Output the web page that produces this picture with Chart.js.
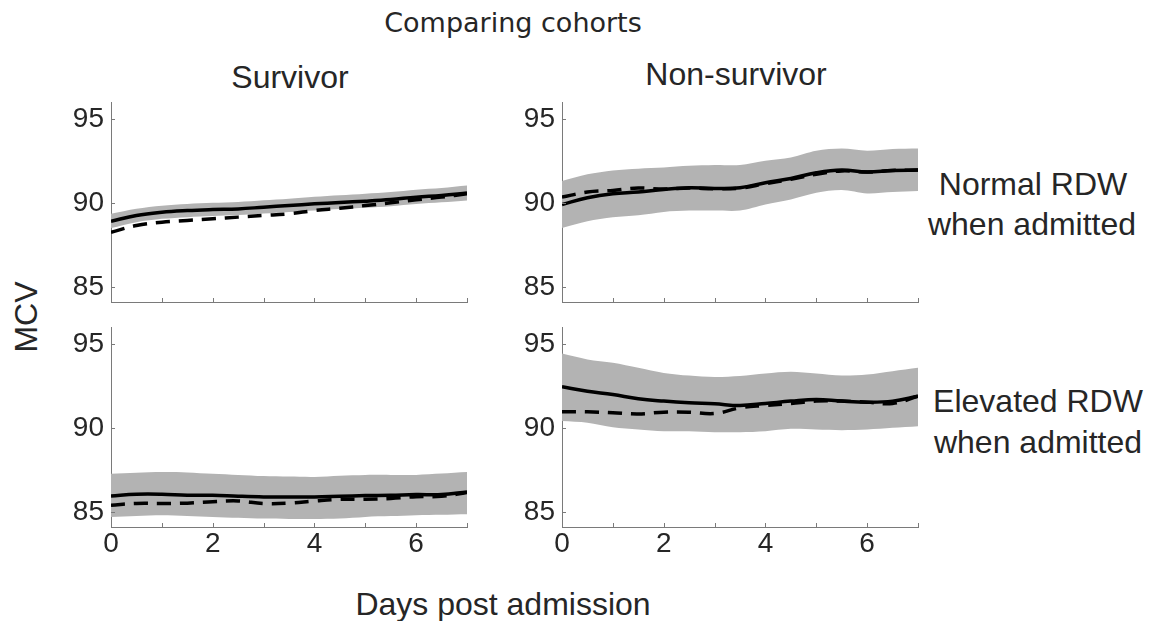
<!DOCTYPE html>
<html>
<head>
<meta charset="utf-8">
<script src="https://cdn.jsdelivr.net/npm/chart.js@4.4.0/dist/chart.umd.min.js"></script>
<style>
  body { margin: 0; background: #fff; width: 1151px; height: 621px; position: relative; overflow: hidden;
         font-family: "Liberation Sans", Arial, sans-serif; color: #262626; }
  .panel { position: absolute; }
  .txt { position: absolute; white-space: nowrap; font-size: 32px; line-height: 32px; transform: translateX(-50%); }
  .title { font-family: "DejaVu Sans", Verdana, sans-serif; font-size: 27px; line-height: 27px; }
  .ylab { position: absolute; left: 26px; top: 317px; font-size: 32px; line-height: 32px; white-space: nowrap;
          transform: translate(-50%, -50%) rotate(-90deg); }
</style>
</head>
<body>
<div class="txt title" style="left:513px; top:9px;">Comparing cohorts</div>
<div class="txt" style="left:290px; top:61px;">Survivor</div>
<div class="txt" style="left:736px; top:58px;">Non-survivor</div>
<div class="txt" style="left:1033px; top:168px;">Normal RDW</div>
<div class="txt" style="left:1032px; top:208px;">when admitted</div>
<div class="txt" style="left:1038px; top:385px;">Elevated RDW</div>
<div class="txt" style="left:1038px; top:426px;">when admitted</div>
<div class="txt" style="left:503px; top:588px;">Days post admission</div>
<div class="ylab">MCV</div>

<div class="panel" style="left:51px; top:96px;"><canvas id="tl" width="422" height="216"></canvas></div>
<div class="panel" style="left:502px; top:96px;"><canvas id="tr" width="422" height="216"></canvas></div>
<div class="panel" style="left:51px; top:321px;"><canvas id="bl" width="422" height="246"></canvas></div>
<div class="panel" style="left:502px; top:321px;"><canvas id="br" width="422" height="246"></canvas></div>

<script>
// days post admission
const days = [0, 0.5, 1, 1.5, 2, 2.5, 3, 3.5, 4, 4.5, 5, 5.5, 6, 6.5, 7];
const xTicks = [0, 1, 2, 3, 4, 5, 6, 7];
const xLabelled = [0, 2, 4, 6];
const yTicks = [85, 90, 95];

// Survivor, normal RDW when admitted
const survNormalSolid  = [88.9, 89.25, 89.44, 89.54, 89.6, 89.64, 89.74, 89.84, 89.94, 90.02, 90.1, 90.2, 90.34, 90.44, 90.58];
const survNormalDashed = [88.25, 88.65, 88.85, 88.95, 89.05, 89.15, 89.25, 89.35, 89.54, 89.68, 89.84, 90.0, 90.18, 90.34, 90.54];
const survNormalUpper  = [89.35, 89.65, 89.83, 89.93, 90.0, 90.05, 90.15, 90.25, 90.36, 90.45, 90.54, 90.64, 90.78, 90.88, 91.03];
const survNormalLower  = [88.5, 88.85, 89.05, 89.15, 89.22, 89.27, 89.36, 89.46, 89.55, 89.63, 89.71, 89.8, 89.93, 90.03, 90.14];

// Non-survivor, normal RDW when admitted
const nonNormalSolid  = [89.9, 90.3, 90.54, 90.64, 90.8, 90.9, 90.86, 90.9, 91.2, 91.45, 91.79, 91.95, 91.83, 91.93, 91.95];
const nonNormalDashed = [90.34, 90.64, 90.74, 90.88, 90.82, 90.88, 90.84, 90.88, 91.14, 91.4, 91.7, 91.9, 91.83, 91.93, 91.95];
const nonNormalUpper  = [91.3, 91.7, 91.93, 92.03, 92.1, 92.2, 92.25, 92.25, 92.5, 92.7, 93.1, 93.23, 93.1, 93.2, 93.23];
const nonNormalLower  = [88.5, 88.9, 89.14, 89.26, 89.46, 89.54, 89.54, 89.54, 89.9, 90.2, 90.6, 90.76, 90.56, 90.64, 90.7];

// Survivor, elevated RDW when admitted
const survElevSolid  = [85.95, 86.05, 86.05, 85.99, 85.99, 85.93, 85.89, 85.89, 85.89, 85.93, 85.97, 85.99, 86.03, 86.03, 86.19];
const survElevDashed = [85.4, 85.5, 85.5, 85.52, 85.6, 85.65, 85.5, 85.52, 85.65, 85.75, 85.75, 85.8, 85.9, 85.93, 86.15];
const survElevUpper  = [87.27, 87.33, 87.37, 87.35, 87.27, 87.2, 87.13, 87.1, 87.08, 87.15, 87.2, 87.2, 87.2, 87.28, 87.37];
const survElevLower  = [84.7, 84.75, 84.8, 84.75, 84.7, 84.65, 84.6, 84.58, 84.57, 84.6, 84.7, 84.75, 84.8, 84.83, 84.86];

// Non-survivor, elevated RDW when admitted
const nonElevSolid  = [92.44, 92.18, 91.98, 91.73, 91.59, 91.49, 91.43, 91.33, 91.45, 91.59, 91.69, 91.59, 91.53, 91.59, 91.88];
const nonElevDashed = [90.95, 90.95, 90.9, 90.83, 90.93, 90.93, 90.85, 91.19, 91.33, 91.45, 91.59, 91.59, 91.53, 91.45, 91.88];
const nonElevUpper  = [94.42, 94.07, 93.87, 93.57, 93.27, 93.11, 93.02, 93.08, 93.23, 93.33, 93.23, 93.11, 93.17, 93.37, 93.57];
const nonElevLower  = [90.4, 90.3, 90.04, 89.9, 89.8, 89.8, 89.74, 89.74, 89.8, 89.94, 89.9, 89.86, 89.9, 90.0, 90.1];

const axisColor = '#7a7a7a';
const textColor = '#262626';
const bandColor = '#b3b3b3';

// MATLAB style tick marks pointing into the plot
const inwardTicks = {
  id: 'inwardTicks',
  afterDraw(chart) {
    const { ctx, chartArea: a, scales: { x, y } } = chart;
    ctx.save();
    ctx.strokeStyle = axisColor;
    ctx.lineWidth = 1;
    ctx.beginPath();
    xTicks.forEach(v => {
      const px = Math.round(x.getPixelForValue(v)) + 0.5;
      ctx.moveTo(px, a.bottom);
      ctx.lineTo(px, a.bottom - 4);
    });
    yTicks.forEach(v => {
      const py = Math.round(y.getPixelForValue(v)) + 0.5;
      ctx.moveTo(a.left, py);
      ctx.lineTo(a.left + 4, py);
    });
    ctx.stroke();
    ctx.restore();
  }
};

const pts = arr => arr.map((v, i) => ({ x: days[i], y: v }));

function makePanel(id, solid, dashed, upper, lower, showX) {
  const tickFont = { family: 'Liberation Sans', size: 28 };
  new Chart(document.getElementById(id), {
    type: 'line',
    data: {
      datasets: [
        { data: pts(solid), borderColor: '#000', borderWidth: 3.5, pointRadius: 0, tension: 0.4, fill: false },
        { data: pts(dashed), borderColor: '#000', borderWidth: 3.5, borderDash: [14, 9], pointRadius: 0, tension: 0.4, fill: false },
        { data: pts(upper), borderColor: 'rgba(0,0,0,0)', borderWidth: 0, backgroundColor: bandColor, pointRadius: 0, tension: 0.3, fill: '+1' },
        { data: pts(lower), borderColor: 'rgba(0,0,0,0)', borderWidth: 0, pointRadius: 0, tension: 0.3, fill: false }
      ]
    },
    options: {
      responsive: false,
      animation: false,
      devicePixelRatio: 1,
      layout: { padding: { top: 6, right: 6, left: 0, bottom: 0 } },
      plugins: { legend: { display: false }, tooltip: { enabled: false } },
      scales: {
        x: {
          type: 'linear', min: 0, max: 7,
          afterBuildTicks: s => { s.ticks = xTicks.map(v => ({ value: v })); },
          afterFit: s => { s.height = showX ? 40 : 10; s.paddingLeft = 0; s.paddingRight = 0; },
          grid: { display: false, drawTicks: false },
          border: { display: true, color: axisColor, width: 1 },
          ticks: {
            autoSkip: false, maxRotation: 0, padding: 0, color: textColor, font: tickFont,
            callback: v => (showX && xLabelled.includes(v)) ? String(v) : ''
          }
        },
        y: {
          min: 84.1, max: 96,
          afterBuildTicks: s => { s.ticks = yTicks.map(v => ({ value: v })); },
          afterFit: s => { s.width = 60; s.paddingTop = 0; s.paddingBottom = 0; },
          grid: { display: false, drawTicks: false },
          border: { display: true, color: axisColor, width: 1 },
          ticks: { padding: 7, color: textColor, font: tickFont }
        }
      }
    },
    plugins: [inwardTicks]
  });
}

makePanel('tl', survNormalSolid, survNormalDashed, survNormalUpper, survNormalLower, false);
makePanel('tr', nonNormalSolid, nonNormalDashed, nonNormalUpper, nonNormalLower, false);
makePanel('bl', survElevSolid, survElevDashed, survElevUpper, survElevLower, true);
makePanel('br', nonElevSolid, nonElevDashed, nonElevUpper, nonElevLower, true);
</script>
</body>
</html>
